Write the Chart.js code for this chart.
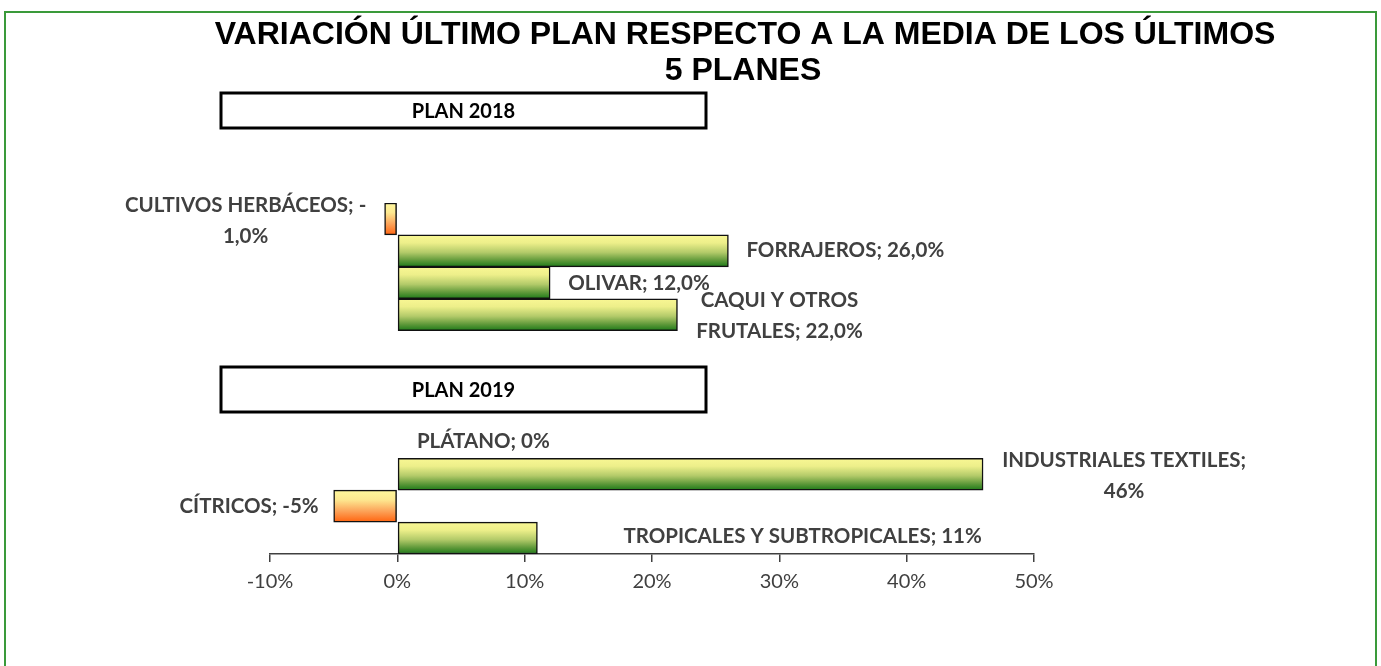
<!DOCTYPE html>
<html lang="es">
<head>
<meta charset="utf-8">
<title>Variación último plan respecto a la media de los últimos 5 planes</title>
<script src="https://cdn.jsdelivr.net/npm/chart.js@4.4.1/dist/chart.umd.min.js"></script>
<style>
  html, body { margin: 0; padding: 0; background: #fff; overflow: hidden; }
  #wrap { position: relative; width: 1381px; height: 666px; }
  #frame {
    position: absolute; left: 4px; top: 11px; width: 1373px; height: 720px;
    border: 2px solid #3a9a3a; box-sizing: border-box;
  }
  canvas { position: absolute; left: 0; top: 0; }
</style>
</head>
<body>
<div id="wrap">
  <div id="frame"></div>
  <canvas id="chart" width="1381" height="666"></canvas>
</div>
<script>
// categories, top to bottom (blank rows leave room for the PLAN 2019 box)
const categories = [
  'CULTIVOS HERBÁCEOS', 'FORRAJEROS', 'OLIVAR', 'CAQUI Y OTROS FRUTALES',
  '', '', '',
  'PLÁTANO', 'INDUSTRIALES TEXTILES', 'CÍTRICOS', 'TROPICALES Y SUBTROPICALES'
];
// variation in %
const variation = [-1, 26, 12, 22, null, null, null, 0, 46, -5, 11];

// data label text as shown (Excel wraps some of them)
const valueLabels = [
  ['CULTIVOS HERBÁCEOS; -', '1,0%'],
  ['FORRAJEROS; 26,0%'],
  ['OLIVAR; 12,0%'],
  ['CAQUI Y OTROS', 'FRUTALES; 22,0%'],
  [], [], [],
  ['PLÁTANO; 0%'],
  ['INDUSTRIALES TEXTILES;', '46%'],
  ['CÍTRICOS; -5%'],
  ['TROPICALES Y SUBTROPICALES; 11%']
];

const titleLines = ['VARIACIÓN ÚLTIMO PLAN RESPECTO A LA MEDIA DE LOS ÚLTIMOS', '5 PLANES'];
const planTitles = ['PLAN 2018', 'PLAN 2019'];

const xMin = -10;
const xMax = 50;
const xStep = 10;

// --- layout / style (not data) ---
const labelPlacement = {
  0: { dx: -139, dy: -14, align: 'center' },
  1: { dx: 18, dy: 0, align: 'left' },
  2: { dx: 18, dy: 1, align: 'left' },
  3: { dx: 102, dy: -14, align: 'center' },
  7: { dx: 86, dy: -1, align: 'center' },
  8: { dx: 141, dy: -14, align: 'center' },
  9: { dx: -15, dy: 0, align: 'right' },
  10: { dx: 86, dy: -2, align: 'left' }
};
const planBoxRects = [
  { x: 221, y: 93, w: 485, h: 35 },
  { x: 221, y: 367, w: 485, h: 45 }
];

const LABEL_FONT = 'bold 20.5px Lato';
const LABEL_COLOR = '#404040';

function barFill(ctx) {
  const chart = ctx.chart;
  const yScale = chart.scales.y;
  const v = ctx.raw;
  const neg = v < 0;
  const flat = neg ? '#fb9a50' : '#8cb84e';
  if (!yScale || ctx.type !== 'data') return flat;
  const c = yScale.getPixelForValue(ctx.dataIndex);
  const half = Math.abs(yScale.getPixelForValue(1) - yScale.getPixelForValue(0)) / 2;
  if (!Number.isFinite(c) || !Number.isFinite(half) || half === 0) return flat;
  const g = chart.ctx.createLinearGradient(0, c - half, 0, c + half);
  if (neg) {
    g.addColorStop(0, '#fff79c');
    g.addColorStop(0.3, '#fde890');
    g.addColorStop(0.65, '#fca45a');
    g.addColorStop(1, '#ff6410');
  } else {
    g.addColorStop(0, '#f9f794');
    g.addColorStop(0.25, '#edef8a');
    g.addColorStop(0.55, '#b2ca69');
    g.addColorStop(0.8, '#5f993a');
    g.addColorStop(1, '#1d7a18');
  }
  return g;
}

const decorations = {
  id: 'decorations',
  afterDatasetsDraw(chart) {
    const ctx = chart.ctx;
    const meta = chart.getDatasetMeta(0);
    ctx.save();
    ctx.font = LABEL_FONT;
    ctx.fillStyle = LABEL_COLOR;
    ctx.textBaseline = 'middle';
    valueLabels.forEach((lines, i) => {
      const p = labelPlacement[i];
      const bar = meta.data[i];
      if (!p || !bar || !lines.length) return;
      ctx.textAlign = p.align;
      lines.forEach((t, k) => {
        ctx.fillText(t, bar.x + p.dx, bar.y + p.dy + k * 31);
      });
    });
    ctx.restore();
  },
  afterDraw(chart) {
    const ctx = chart.ctx;
    ctx.save();
    // title
    ctx.fillStyle = '#000';
    ctx.textAlign = 'center';
    ctx.textBaseline = 'alphabetic';
    ctx.font = 'bold 32px "Liberation Sans", Arial, sans-serif';
    ctx.fillText(titleLines[0], 745, 44);
    ctx.fillText(titleLines[1], 743, 80);
    // plan boxes
    planBoxRects.forEach((r, i) => {
      ctx.fillStyle = '#fff';
      ctx.fillRect(r.x, r.y, r.w, r.h);
      ctx.lineWidth = 3;
      ctx.strokeStyle = '#000';
      ctx.strokeRect(r.x, r.y, r.w, r.h);
      ctx.fillStyle = '#000';
      ctx.font = 'bold 20px Lato';
      ctx.textBaseline = 'middle';
      ctx.fillText(planTitles[i], r.x + r.w / 2, r.y + r.h / 2 + 1);
    });
    ctx.restore();
  }
};

new Chart(document.getElementById('chart'), {
  type: 'bar',
  data: {
    labels: categories,
    datasets: [{
      data: variation,
      backgroundColor: barFill,
      borderColor: '#111',
      borderWidth: 1.5,
      borderSkipped: false,
      barPercentage: 1,
      categoryPercentage: 1
    }]
  },
  options: {
    indexAxis: 'y',
    responsive: false,
    animation: false,
    layout: { padding: { left: 270, right: 347, top: 203, bottom: 72 } },
    plugins: {
      legend: { display: false },
      title: { display: false },
      tooltip: { enabled: false }
    },
    scales: {
      x: {
        min: xMin,
        max: xMax,
        afterFit(scale) { scale.height = 40; },
        ticks: {
          stepSize: xStep,
          padding: 8,
          color: '#404040',
          font: { family: 'Lato', size: 20 },
          callback: (v) => v + '%'
        },
        grid: {
          drawOnChartArea: false,
          drawTicks: true,
          tickLength: 8,
          color: '#404040',
          lineWidth: 1.5
        },
        border: { display: true, color: '#404040', width: 1.5 }
      },
      y: {
        display: false
      }
    }
  },
  plugins: [decorations]
});
</script>
</body>
</html>
